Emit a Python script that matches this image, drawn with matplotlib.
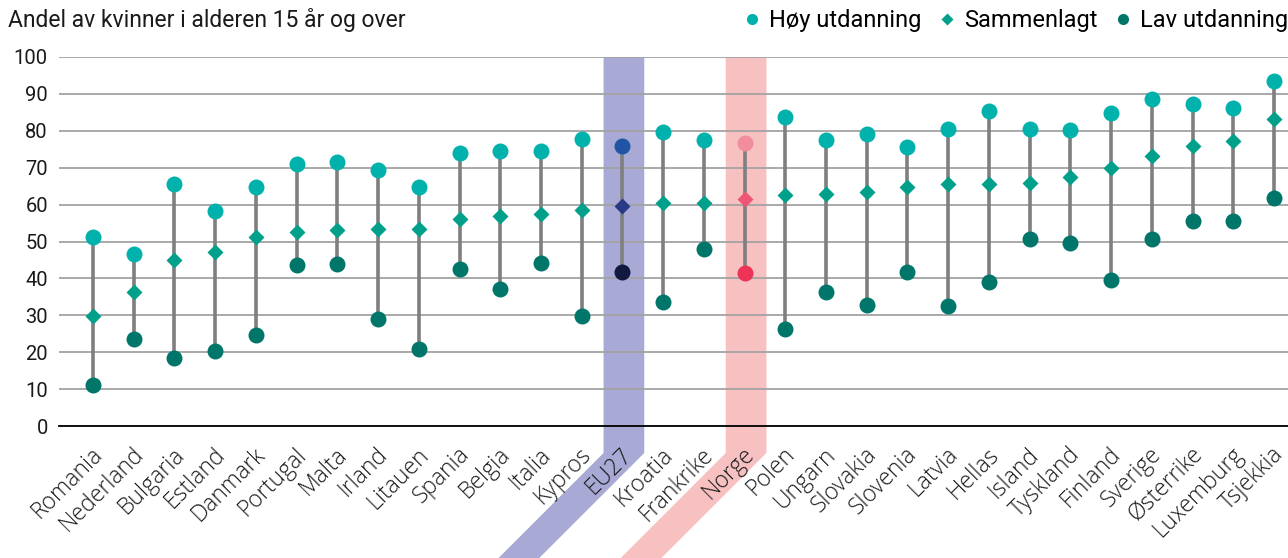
import numpy as np
import matplotlib.pyplot as plt
from matplotlib.patches import Polygon
from matplotlib.lines import Line2D
from matplotlib.transforms import ScaledTranslation

countries = ['Romania', 'Nederland', 'Bulgaria', 'Estland', 'Danmark', 'Portugal',
             'Malta', 'Irland', 'Litauen', 'Spania', 'Belgia', 'Italia', 'Kypros',
             'EU27', 'Kroatia', 'Frankrike', 'Norge', 'Polen', 'Ungarn', 'Slovakia',
             'Slovenia', 'Latvia', 'Hellas', 'Island', 'Tyskland', 'Finland',
             'Sverige', 'Østerrike', 'Luxemburg', 'Tsjekkia']

hoy = [51.3, 46.5, 65.5, 58.2, 64.8, 71.1, 71.5, 69.3, 64.9, 74.0, 74.6, 74.6, 77.9,
       76.0, 79.6, 77.4, 76.6, 83.8, 77.4, 79.2, 75.7, 80.5, 85.4, 80.6, 80.3, 84.7,
       88.6, 87.3, 86.2, 93.6]
samlet = [29.8, 36.2, 45.0, 47.2, 51.2, 52.6, 53.2, 53.3, 53.5, 56.0, 57.0, 57.4, 58.5,
          59.6, 60.3, 60.4, 61.5, 62.7, 62.9, 63.5, 64.9, 65.5, 65.5, 65.8, 67.6, 69.8,
          73.1, 76.0, 77.2, 83.3]
lav = [11.1, 23.5, 18.4, 20.3, 24.7, 43.5, 43.9, 29.0, 20.9, 42.5, 37.0, 44.2, 29.7,
       41.7, 33.5, 48.0, 41.4, 26.4, 36.3, 32.7, 41.6, 32.5, 38.9, 50.6, 49.5, 39.6,
       50.7, 55.5, 55.5, 61.8]

# colours: (høy, sammenlagt, lav)
base_cols = ('#00b2ab', '#00a08b', '#00766a')
special = {
    'EU27': {'band': '#a8aad5', 'cols': ('#2055a6', '#283a85', '#121840')},
    'Norge': {'band': '#f8c1c1', 'cols': ('#f08e9f', '#ee5676', '#ee3456')},
}

plt.rcParams['font.family'] = ['Roboto', 'DejaVu Sans']

W, H = 1288, 558
fig = plt.figure(figsize=(W / 100, H / 100), dpi=100)
ax_l, ax_r, ax_t, ax_b = 59, 1288, 57, 426
ax = fig.add_axes([ax_l / W, 1 - ax_b / H, (ax_r - ax_l) / W, (ax_b - ax_t) / H])

x = np.arange(len(countries))
ax.set_xlim(-0.835, 29.344)
ax.set_ylim(0, 100)

# connectors and markers
for i, c in enumerate(countries):
    ch, cs, cl = special[c]['cols'] if c in special else base_cols
    ax.plot([i, i], [lav[i], hoy[i]], color='#7f7f7f', lw=2.6, zorder=2,
            solid_capstyle='butt')
    ax.plot(i, hoy[i], 'o', ms=11.5, color=ch, mec='none', zorder=3)
    ax.plot(i, lav[i], 'o', ms=11.5, color=cl, mec='none', zorder=3)
    ax.plot(i, samlet[i], 'D', ms=8.6, color=cs, mec='none', zorder=4)

# grid
ax.set_yticks(np.arange(0, 101, 10))
ax.yaxis.grid(True, color='#a3a3a3', lw=1.3)
ax.set_axisbelow(True)
for s in ['top', 'right', 'left']:
    ax.spines[s].set_visible(False)
ax.spines['bottom'].set_color('black')
ax.spines['bottom'].set_linewidth(1.3)
ax.tick_params(axis='y', length=0, pad=8, labelsize=14.5, labelcolor='#1a1a1a')
ax.tick_params(axis='x', length=0, pad=12)

ax.set_xticks(x)
ax.set_xticklabels(countries, rotation=45, ha='right', va='top',
                   rotation_mode='anchor', fontsize=16.5, family='Open Sans',
                   fontweight='light', color='#1a1a1a')
shift = ScaledTranslation(-1.5 / 72, 0, fig.dpi_scale_trans)
for lab in ax.get_xticklabels():
    lab.set_transform(lab.get_transform() + shift)

# highlight bands: vertical through the plot, slanted under the labels
fig.canvas.draw()
inv = ax.transData.inverted()
for c, st in special.items():
    i = countries.index(c)
    x0 = ax.transData.transform((i - 0.5, 0))[0] + 1.5
    x1 = ax.transData.transform((i + 0.5, 0))[0] + 1.5
    y_top = ax.transData.transform((0, 100))[1]
    y_knee = ax.transData.transform((0, 0))[1] - 27
    d = y_knee
    pts = [(x0, y_top), (x1, y_top), (x1, y_knee), (x1 - d, 0), (x0 - d, 0), (x0, y_knee)]
    poly = Polygon(inv.transform(pts), closed=True, color=st['band'], lw=0,
                   zorder=0.2, clip_on=False)
    ax.add_patch(poly)

fig.text(8 / W, 1 - 20 / H, 'Andel av kvinner i alderen 15 år og over',
         fontsize=16.5, va='center', ha='left', color='#1a1a1a')

handles = [
    Line2D([], [], ls='none', marker='o', ms=8, color=base_cols[0], mec='none'),
    Line2D([], [], ls='none', marker='D', ms=6, color=base_cols[1], mec='none'),
    Line2D([], [], ls='none', marker='o', ms=8, color=base_cols[2], mec='none'),
]
fig.legend(handles, ['Høy utdanning', 'Sammenlagt', 'Lav utdanning'],
           loc='center right', bbox_to_anchor=(1.0, 1 - 21 / H), ncol=3,
           frameon=False, fontsize=17, handlelength=0.6, handletextpad=0.4,
           columnspacing=0.8, borderaxespad=0, borderpad=0)

fig.savefig('out.png', dpi=100)
